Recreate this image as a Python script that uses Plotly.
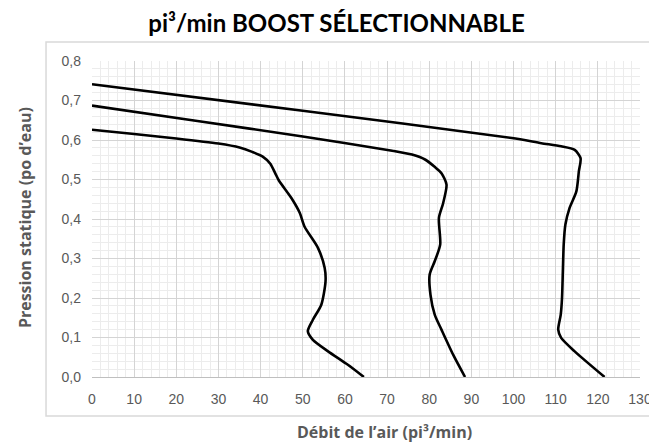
import plotly.graph_objects as go

# Data
x_low = [0, 10, 20, 30, 35, 38, 40.5, 42.3, 43.5, 44.3, 47.3, 49.3, 50.4, 53.6, 55.2, 55.4, 54.4, 52.4, 51.2, 52.4, 56.0, 60.7, 64.5]
y_low = [0.626, 0.615, 0.604, 0.591, 0.581, 0.570, 0.558, 0.540, 0.515, 0.498, 0.453, 0.415, 0.381, 0.327, 0.276, 0.242, 0.183, 0.145, 0.116, 0.094, 0.065, 0.031, 0.0]

x_mid = [0, 25, 50, 71.2, 75.9, 79.1, 81.4, 82.9, 84.1, 83.3, 82.3, 82.6, 81.3, 80.1, 80.3, 81.3, 82.9, 85.7, 88.5]
y_mid = [0.687, 0.648, 0.609, 0.573, 0.563, 0.550, 0.531, 0.516, 0.487, 0.440, 0.403, 0.335, 0.293, 0.259, 0.208, 0.158, 0.120, 0.056, 0.0]

x_high = [0, 50, 99.6, 106.6, 111.3, 114.5, 115.9, 115.5, 114.9, 113.3, 112.3, 111.9, 111.7, 111.5, 111.2, 110.6, 111.3, 114.5, 121.6]
y_high = [0.741, 0.674, 0.605, 0.592, 0.584, 0.575, 0.554, 0.521, 0.470, 0.428, 0.386, 0.335, 0.268, 0.200, 0.158, 0.120, 0.099, 0.065, 0.0]

x_ticks = list(range(0, 131, 10))
y_ticks = [0.0, 0.1, 0.2, 0.3, 0.4, 0.5, 0.6, 0.7, 0.8]

title_text = "pi³/min BOOST SÉLECTIONNABLE"
x_title = "Débit de l’air (pi³/min)"
y_title = "Pression statique (po d’eau)"

fig = go.Figure()
for xs, ys in [(x_low, y_low), (x_mid, y_mid), (x_high, y_high)]:
    fig.add_trace(go.Scatter(x=xs, y=ys, mode="lines",
                             line=dict(color="black", width=2.6, shape="spline", smoothing=0.7),
                             showlegend=False, hoverinfo="skip"))

tick_font = dict(family="Liberation Sans, Arial", size=14, color="#595959")

fig.update_layout(
    width=657, height=447,
    margin=dict(l=84, r=25, t=53, b=78),
    paper_bgcolor="white", plot_bgcolor="white",
    separators=", ",
    title=dict(text=title_text, x=0.5, xanchor="center", y=0.966, yanchor="middle",
               font=dict(family="Lato, Open Sans, sans-serif", size=24, color="black", weight="bold")),
    xaxis=dict(range=[0, 130], tickvals=x_ticks, showgrid=True, gridcolor="#d4d4d4", gridwidth=1,
               minor=dict(dtick=2, showgrid=True, gridcolor="#ececec", gridwidth=1),
               showline=True, linecolor="#bfbfbf", linewidth=1, zeroline=False,
               ticks="", tickfont=tick_font, ticklabelstandoff=9, fixedrange=True),
    yaxis=dict(range=[0, 0.8], tickvals=y_ticks, tickformat=".1f", showgrid=True, gridcolor="#d4d4d4", gridwidth=1,
               minor=dict(dtick=0.02, showgrid=True, gridcolor="#ececec", gridwidth=1),
               showline=False, zeroline=False,
               ticks="", tickfont=tick_font, ticklabelstandoff=10, fixedrange=True),
)

fig.add_annotation(text=x_title, xref="paper", yref="paper", x=0.533, y=-0.174, xanchor="center", yanchor="middle",
                   showarrow=False, font=dict(family="Open Sans, sans-serif", size=16, color="#595959", weight="bold"))
fig.add_annotation(text=y_title, xref="paper", yref="paper", x=-0.121, y=0.505, xanchor="center", yanchor="middle",
                   textangle=-90, showarrow=False,
                   font=dict(family="Open Sans, sans-serif", size=16, color="#595959", weight="bold"))

fig.add_shape(type="rect", xref="paper", yref="paper", x0=-0.0839, x1=1.06, y0=-0.1234, y1=1.060,
              line=dict(color="#d9d9d9", width=1.5), fillcolor="rgba(0,0,0,0)", layer="below")

fig.write_html("out.html")
